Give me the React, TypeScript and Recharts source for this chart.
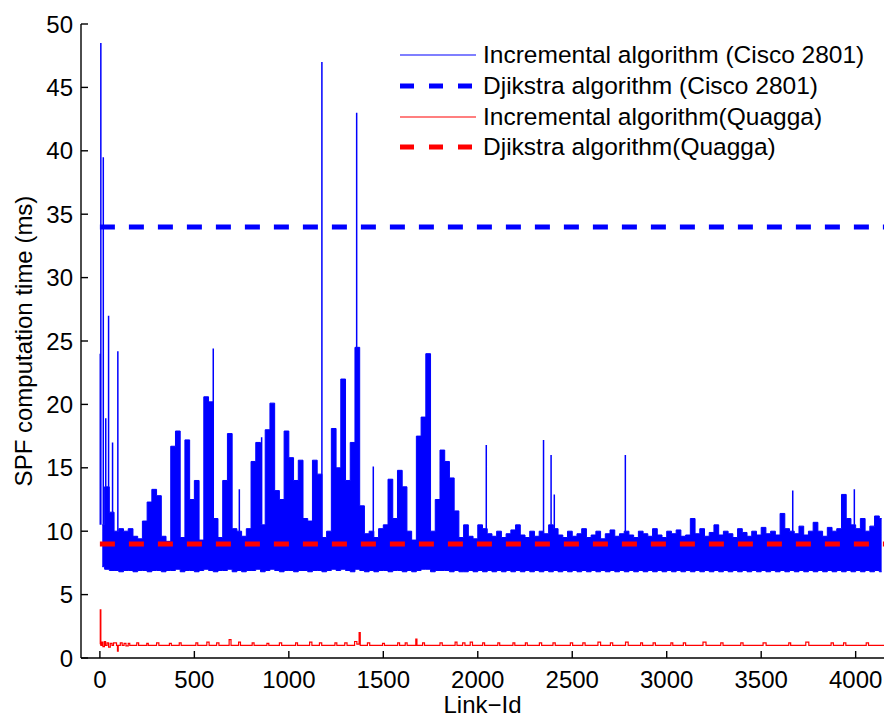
import { ComposedChart, Area, Line, XAxis, YAxis, Legend } from "recharts";

const FONT = '"Liberation Sans", Arial, Helvetica, sans-serif';
const BLUE = "#0000ff";
const RED = "#ff0000";

// Link-Id axis
const X_DOMAIN: [number, number] = [-100, 4150];
const X_TICKS = [0, 500, 1000, 1500, 2000, 2500, 3000, 3500, 4000];
const Y_TICKS = [0, 5, 10, 15, 20, 25, 30, 35, 40, 45, 50];

// Cisco 2801 incremental SPF: envelope of the dense band, one value per 25 links
const BUCKET = 25;
const ciscoHi = [
  10.5, 13.5, 11.5, 10.0, 10.2, 10.0, 10.2, 9.6, 9.4, 10.8,
  12.3, 13.3, 12.8, 9.6, 9.2, 16.7, 17.9, 9.5, 17.2, 12.5,
  14.0, 9.3, 20.6, 20.2, 11.0, 9.5, 14.0, 17.7, 10.2, 10.0,
  9.6, 10.2, 15.5, 17.0, 10.5, 18.0, 20.1, 13.2, 12.5, 17.9,
  15.8, 14.0, 15.6, 11.0, 10.8, 15.6, 14.5, 9.5, 10.0, 18.1,
  15.0, 22.0, 14.0, 17.0, 24.5, 12.0, 9.8, 10.0, 9.5, 10.2,
  10.5, 14.1, 11.0, 14.8, 13.5, 10.0, 9.3, 17.5, 19.0, 24.0,
  10.0, 12.5, 16.4, 15.5, 14.2, 11.6, 9.5, 10.5, 9.6, 9.4,
  10.5, 10.2, 9.8, 9.6, 10.0, 9.5, 9.8, 10.1, 10.5, 9.7,
  9.5, 10.0, 9.6, 10.0, 9.8, 10.5, 10.2, 9.7, 9.5, 10.0,
  9.6, 9.8, 10.2, 9.5, 9.7, 10.0, 9.4, 9.8, 10.1, 9.6,
  9.8, 10.0, 9.7, 9.5, 10.0, 9.8, 9.6, 10.2, 9.7, 9.5,
  10.0, 9.8, 10.1, 9.6, 9.7, 11.0, 9.8, 10.2, 9.6, 9.9,
  10.5, 9.7, 10.0, 9.8, 9.5, 10.2, 9.9, 9.6, 10.0, 9.7,
  10.3, 9.8, 10.0, 9.7, 11.4, 10.2, 10.0, 9.8, 10.4, 9.7,
  10.0, 10.7, 10.0, 9.6, 10.3, 10.0, 10.2, 12.9, 11.0, 10.5,
  10.2, 11.0, 10.0, 10.4, 11.2, 11.0,
];
const ciscoLo = [
  7.2, 7.0, 6.9, 6.9, 6.8, 6.9, 6.9, 6.8, 6.9, 6.9,
  6.8, 6.9, 6.9, 6.8, 6.9, 6.9, 7.0, 6.8, 6.9, 6.9,
  6.8, 6.9, 7.0, 6.9, 6.8, 6.9, 6.9, 7.0, 6.8, 6.9,
  6.8, 6.9, 6.9, 7.0, 6.8, 6.9, 7.0, 6.9, 6.8, 6.9,
  6.9, 6.8, 6.9, 6.9, 6.8, 6.9, 6.9, 6.8, 6.9, 7.0,
  6.9, 7.0, 6.9, 6.8, 7.0, 6.9, 6.8, 6.9, 6.8, 6.9,
  6.9, 6.8, 6.9, 6.9, 6.8, 6.9, 6.8, 6.9, 7.0, 7.0,
  6.8, 6.9, 6.9, 6.9, 6.8, 6.9, 6.8, 6.8, 6.9, 6.8,
  6.9, 6.8, 6.9, 6.8, 6.9, 6.8, 6.9, 6.8, 6.9, 6.8,
  6.9, 6.8, 6.9, 6.8, 6.9, 6.8, 6.9, 6.8, 6.9, 6.8,
  6.9, 6.8, 6.9, 6.8, 6.9, 6.8, 6.9, 6.8, 6.9, 6.8,
  6.9, 6.8, 6.9, 6.8, 6.9, 6.8, 6.9, 6.8, 6.9, 6.8,
  6.9, 6.8, 6.9, 6.8, 6.9, 6.8, 6.9, 6.8, 6.9, 6.8,
  6.9, 6.8, 6.9, 6.8, 6.9, 6.8, 6.9, 6.8, 6.9, 6.8,
  6.9, 6.8, 6.9, 6.8, 6.9, 6.8, 6.9, 6.8, 6.9, 6.8,
  6.9, 6.8, 6.9, 6.8, 6.9, 6.8, 6.9, 6.8, 6.9, 6.8,
  6.9, 6.8, 6.9, 6.8, 6.9, 6.8,
];
// isolated narrow peaks standing on top of the band
const ciscoSpikeX = [2, 5, 18, 31, 46, 67, 95, 600, 738, 856, 1175, 1359, 1447, 2045, 2348, 2388, 2405, 2781, 3667, 3993];
const ciscoSpikeY = [24, 48.5, 39.5, 18.9, 27, 17, 24.2, 24.4, 13.3, 17.4, 47, 43, 15.1, 16.8, 17.2, 16, 12.9, 16, 13.2, 13.3];

// Quagga incremental SPF: level held from each link id onward
const quaggaX = [
  0, 2, 5, 10, 16, 24, 30, 38, 46, 55, 64, 72, 88, 93, 97, 108, 118, 128, 138, 150,
  158, 195, 205, 248, 256, 300, 312, 368, 378, 420, 430, 508, 518, 566, 578, 618, 630, 684, 694, 734,
  744, 806, 816, 884, 894, 950, 962, 1036, 1046, 1110, 1122, 1162, 1174, 1244, 1254, 1296, 1308, 1348, 1360, 1372,
  1378, 1416, 1428, 1496, 1506, 1576, 1586, 1616, 1626, 1672, 1678, 1708, 1718, 1800, 1812, 1880, 1890, 1920, 1932, 1960,
  1972, 2026, 2036, 2106, 2116, 2186, 2196, 2252, 2262, 2326, 2338, 2398, 2410, 2490, 2502, 2556, 2568, 2636, 2650, 2702,
  2714, 2782, 2796, 2862, 2872, 2928, 2940, 3022, 3032, 3088, 3100, 3192, 3208, 3286, 3298, 3392, 3404, 3510, 3526, 3646,
  3656, 3736, 3752, 3870, 3882, 3936, 3948, 4056, 4068, 4150,
];
const quaggaY = [
  1.1, 3.8, 1.0, 1.25, 0.9, 1.3, 1.0, 1.2, 0.85, 1.15, 1.0, 1.2, 1.0, 0.55, 1.0, 1.2, 1.0, 1.15, 0.95, 1.15,
  1.0, 1.2, 1.0, 1.15, 1.0, 1.2, 1.0, 1.15, 1.0, 1.2, 1.0, 1.2, 1.0, 1.25, 1.0, 1.2, 1.0, 1.45, 1.0, 1.25,
  1.0, 1.2, 1.0, 1.15, 1.0, 1.2, 1.0, 1.2, 1.0, 1.25, 1.0, 1.2, 1.0, 1.2, 1.0, 1.2, 1.0, 1.3, 1.1, 2.0,
  1.0, 1.2, 1.0, 1.15, 1.0, 1.2, 1.0, 1.2, 1.0, 1.5, 1.0, 1.2, 1.0, 1.2, 1.0, 1.25, 1.0, 1.2, 1.0, 1.25,
  1.0, 1.2, 1.0, 1.2, 1.0, 1.2, 1.0, 1.2, 1.0, 1.2, 1.0, 1.2, 1.0, 1.2, 1.0, 1.2, 1.0, 1.25, 1.0, 1.2,
  1.0, 1.25, 1.0, 1.2, 1.0, 1.2, 1.0, 1.2, 1.0, 1.2, 1.0, 1.25, 1.0, 1.2, 1.0, 1.2, 1.0, 1.2, 1.0, 1.2,
  1.0, 1.25, 1.0, 1.2, 1.0, 1.2, 1.0, 1.2, 1.0, 1.0,
];

// full Dijkstra recomputation cost (constant)
const DIJKSTRA_CISCO = 34;
const DIJKSTRA_QUAGGA = 9;
const LINK_FIRST = 0;
const LINK_LAST = 4150;

const bandData = ciscoHi.map((hi, i) => ({
  x: i * BUCKET + BUCKET / 2,
  band: [ciscoLo[i], hi],
}));

// each peak is a vertical stroke from the band top; null rows break the path
const spikeData = ciscoSpikeX.flatMap((x, i) => {
  const base = ciscoHi[Math.min(Math.floor(x / BUCKET), ciscoHi.length - 1)];
  return [
    { x, y: base },
    { x, y: ciscoSpikeY[i] },
    { x, y: null },
  ];
});

const quaggaData = quaggaX.map((x, i) => ({ x, y: quaggaY[i] }));

const ciscoDijkstraData = [
  { x: LINK_FIRST, y: DIJKSTRA_CISCO },
  { x: LINK_LAST, y: DIJKSTRA_CISCO },
];
const quaggaDijkstraData = [
  { x: LINK_FIRST, y: DIJKSTRA_QUAGGA },
  { x: LINK_LAST, y: DIJKSTRA_QUAGGA },
];

const legendItems = [
  { name: "Incremental algorithm (Cisco 2801)", color: BLUE, width: 1.2, dash: undefined },
  { name: "Djikstra algorithm (Cisco 2801)", color: BLUE, width: 5, dash: "14 15" },
  { name: "Incremental algorithm(Quagga)", color: RED, width: 1.2, dash: undefined },
  { name: "Djikstra algorithm(Quagga)", color: RED, width: 5, dash: "14 15" },
];

function LegendBox() {
  return (
    <div style={{ fontFamily: FONT, fontSize: 24.5, color: "#000" }}>
      {legendItems.map((item) => (
        <div
          key={item.name}
          style={{ display: "flex", alignItems: "center", height: 30.7 }}
        >
          <svg width={76} height={10} style={{ marginRight: 7, flex: "none" }}>
            <line
              x1={0}
              y1={5}
              x2={76}
              y2={5}
              stroke={item.color}
              strokeWidth={item.width}
              strokeDasharray={item.dash}
            />
          </svg>
          <span style={{ whiteSpace: "nowrap" }}>{item.name}</span>
        </div>
      ))}
    </div>
  );
}

const tickStyle = { fontSize: 24, fill: "#000", fontFamily: FONT };
const axisStroke = { stroke: "#000", strokeWidth: 1.4 };

export default function App() {
  return (
    <div style={{ position: "absolute", left: 0, top: 0, width: 886, height: 722, background: "#fff" }}>
      <ComposedChart
        width={886}
        height={722}
        margin={{ top: 24, right: 2, bottom: 0, left: 0 }}
      >
        <XAxis
          dataKey="x"
          type="number"
          domain={X_DOMAIN}
          ticks={X_TICKS}
          interval={0}
          allowDataOverflow
          height={64}
          tickSize={-7}
          tickMargin={20}
          tick={tickStyle}
          axisLine={axisStroke}
          tickLine={axisStroke}
          label={{
            value: "Link\u2212Id",
            position: "center",
            dy: 14,
            fill: "#000",
            fontSize: 24,
            fontFamily: FONT,
          }}
        />
        <XAxis
          xAxisId="top"
          orientation="top"
          dataKey="x"
          type="number"
          domain={X_DOMAIN}
          ticks={X_TICKS}
          interval={0}
          height={0}
          tickSize={-7}
          tick={false}
          axisLine={axisStroke}
          tickLine={axisStroke}
        />
        <YAxis
          type="number"
          domain={[0, 50]}
          ticks={Y_TICKS}
          interval={0}
          allowDataOverflow
          width={81}
          tickSize={-7}
          tickMargin={15}
          tick={tickStyle}
          axisLine={axisStroke}
          tickLine={axisStroke}
          label={{
            value: "SPF computation time (ms)",
            angle: -90,
            position: "center",
            dx: -17,
            fill: "#000",
            fontSize: 24,
            fontFamily: FONT,
          }}
        />
        <YAxis
          yAxisId="right"
          orientation="right"
          type="number"
          domain={[0, 50]}
          ticks={Y_TICKS}
          interval={0}
          width={0}
          tickSize={-7}
          tick={false}
          axisLine={axisStroke}
          tickLine={axisStroke}
        />
        <Legend
          layout="vertical"
          align="center"
          verticalAlign="middle"
          wrapperStyle={{ left: 400, top: 40, width: 486, height: 123 }}
          content={() => <LegendBox />}
        />
        <Area
          data={bandData}
          dataKey="band"
          name="Incremental algorithm (Cisco 2801)"
          type="step"
          fill={BLUE}
          fillOpacity={1}
          stroke={BLUE}
          strokeWidth={1}
          dot={false}
          activeDot={false}
          isAnimationActive={false}
        />
        <Line
          data={spikeData}
          dataKey="y"
          type="linear"
          stroke={BLUE}
          strokeWidth={1.5}
          dot={false}
          activeDot={false}
          legendType="none"
          isAnimationActive={false}
        />
        <Line
          data={ciscoDijkstraData}
          dataKey="y"
          name="Djikstra algorithm (Cisco 2801)"
          type="linear"
          stroke={BLUE}
          strokeWidth={5}
          strokeDasharray="15 14"
          dot={false}
          activeDot={false}
          isAnimationActive={false}
        />
        <Line
          data={quaggaData}
          dataKey="y"
          name="Incremental algorithm(Quagga)"
          type="stepAfter"
          stroke={RED}
          strokeWidth={1.2}
          dot={false}
          activeDot={false}
          isAnimationActive={false}
        />
        <Line
          data={quaggaDijkstraData}
          dataKey="y"
          name="Djikstra algorithm(Quagga)"
          type="linear"
          stroke={RED}
          strokeWidth={5}
          strokeDasharray="15 14"
          dot={false}
          activeDot={false}
          isAnimationActive={false}
        />
      </ComposedChart>
    </div>
  );
}
